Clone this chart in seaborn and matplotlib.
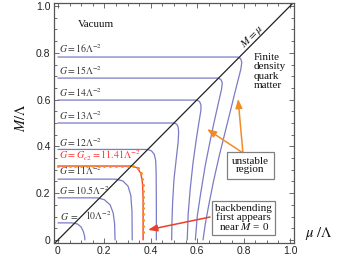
import matplotlib
matplotlib.use("Agg")
import matplotlib.pyplot as plt
import seaborn as sns
import pandas as pd
from matplotlib.ticker import MultipleLocator, FixedLocator, FixedFormatter

# ---------------- data ----------------
curve_names = ["10", "10.5", "11", "12", "13", "14", "15", "16"]
mu_10 = [0.0, 0.06, 0.085, 0.100, 0.110, 0.115, 0.116]
M_10 = [0.073, 0.073, 0.068, 0.055, 0.035, 0.015, 0.0]
mu_105 = [0.0, 0.17, 0.20, 0.225, 0.238, 0.244, 0.246]
M_105 = [0.180, 0.180, 0.172, 0.150, 0.115, 0.070, 0.0]
mu_11 = [0.0, 0.25, 0.28, 0.302, 0.314, 0.319, 0.320]
M_11 = [0.260, 0.260, 0.252, 0.230, 0.190, 0.120, 0.0]
mu_12 = [0.0, 0.385, 0.403, 0.415, 0.421, 0.423, 0.424, 0.424]
M_12 = [0.387, 0.387, 0.381, 0.366, 0.340, 0.290, 0.150, 0.0]
mu_13 = [0.0, 0.50, 0.512, 0.518, 0.520, 0.518, 0.510, 0.500, 0.494, 0.491, 0.490]
M_13 = [0.500, 0.500, 0.495, 0.482, 0.460, 0.420, 0.350, 0.260, 0.160, 0.070, 0.0]
mu_14 = [0.0, 0.598, 0.610, 0.616, 0.616, 0.607, 0.596, 0.582, 0.570, 0.561, 0.557]
M_14 = [0.598, 0.598, 0.592, 0.578, 0.555, 0.500, 0.430, 0.330, 0.220, 0.110, 0.0]
mu_15 = [0.0, 0.690, 0.702, 0.708, 0.705, 0.690, 0.672, 0.655, 0.635, 0.615, 0.600, 0.592]
M_15 = [0.692, 0.692, 0.686, 0.672, 0.645, 0.580, 0.500, 0.420, 0.320, 0.200, 0.100, 0.0]
mu_16 = [0.0, 0.775, 0.787, 0.792, 0.788, 0.770, 0.745, 0.720, 0.695, 0.670, 0.650, 0.635, 0.625]
M_16 = [0.782, 0.782, 0.775, 0.760, 0.730, 0.660, 0.560, 0.460, 0.360, 0.250, 0.150, 0.070, 0.0]

# critical curve G = Gc2 = 11.41
mu_c2 = [0.0, 0.32, 0.342, 0.357, 0.364, 0.367, 0.367]
M_c2 = [0.316, 0.316, 0.308, 0.285, 0.245, 0.180, 0.0]
dots_mu = [0.0, 0.025, 0.05, 0.075, 0.1, 0.125, 0.15, 0.175, 0.2, 0.225, 0.25, 0.275, 0.3, 0.325,
           0.345, 0.357, 0.363, 0.366, 0.366, 0.367, 0.367, 0.367, 0.367, 0.367, 0.367, 0.367]
dots_M = [0.316, 0.316, 0.316, 0.316, 0.316, 0.316, 0.316, 0.316, 0.316, 0.316, 0.316, 0.316, 0.316, 0.315,
          0.306, 0.285, 0.26, 0.235, 0.21, 0.185, 0.16, 0.135, 0.11, 0.085, 0.06, 0.035]

diag = [0.0, 1.0]
tick_vals = [0.0, 0.2, 0.4, 0.6, 0.8, 1.0]
tick_labels = ["0", "0.2", "0.4", "0.6", "0.8", "1.0"]

g_labels = [r"$G = 16\Lambda^{-2}$", r"$G = 15\Lambda^{-2}$", r"$G = 14\Lambda^{-2}$",
            r"$G = 13\Lambda^{-2}$", r"$G = 12\Lambda^{-2}$", r"$G = 11\Lambda^{-2}$",
            r"$G = 10.5\Lambda^{-2}$"]
g_label_y = [0.799, 0.705, 0.611, 0.513, 0.397, 0.278, 0.192]

# ---------------- build table ----------------
mus = [mu_10, mu_105, mu_11, mu_12, mu_13, mu_14, mu_15, mu_16]
Ms = [M_10, M_105, M_11, M_12, M_13, M_14, M_15, M_16]
rows = []
for name, mu, M in zip(curve_names, mus, Ms):
    for i, (a, b) in enumerate(zip(mu, M)):
        rows.append({"curve": name, "order": i, "mu": a, "M": b})
df = pd.DataFrame(rows)
df_c = pd.DataFrame({"mu": mu_c2, "M": M_c2})
df_d = pd.DataFrame({"mu": dots_mu, "M": dots_M})

# ---------------- style ----------------
sns.set_theme(style="white")
plt.rcParams["mathtext.fontset"] = "stix"
plt.rcParams["font.family"] = ["Liberation Serif", "DejaVu Serif"]

fig = plt.figure(figsize=(3.5, 2.63), dpi=100)
ax = fig.add_axes([54 / 350, 20 / 263, 240 / 350, 240 / 263])

blue = "#7b7bc6"
sns.lineplot(data=df, x="mu", y="M", units="curve", estimator=None, sort=False,
             color=blue, lw=0.9, ax=ax)
sns.lineplot(data=df_c, x="mu", y="M", sort=False, estimator=None,
             color="#ff3b3b", lw=1.0, ax=ax)
sns.scatterplot(data=df_d, x="mu", y="M", color="#f0941e", s=4.5, marker="o",
                linewidth=0, ax=ax, zorder=4)
ax.axline((diag[0], diag[0]), (diag[1], diag[1]), color="#222222", lw=0.9)

ax.set_xlim(-0.017, 1.017)
ax.set_ylim(-0.013, 1.013)
ax.set_xlabel("")
ax.set_ylabel("")

for s in ax.spines.values():
    s.set_color("#555555")
    s.set_linewidth(0.9)
ax.xaxis.set_major_locator(FixedLocator(tick_vals))
ax.xaxis.set_major_formatter(FixedFormatter(tick_labels))
ax.yaxis.set_major_locator(FixedLocator(tick_vals))
ax.yaxis.set_major_formatter(FixedFormatter(tick_labels))
ax.xaxis.set_minor_locator(MultipleLocator(0.05))
ax.yaxis.set_minor_locator(MultipleLocator(0.05))
ax.tick_params(which="both", direction="in", top=True, right=True, bottom=True, left=True,
               color="#555555", width=0.6)
ax.tick_params(which="major", length=3.5, labelsize=7.5, pad=2.5, labelcolor="#222222")
ax.tick_params(which="minor", length=2)
for lab in ax.get_xticklabels() + ax.get_yticklabels():
    lab.set_family(["Liberation Sans", "DejaVu Sans"])

# ---------------- annotations ----------------
for t, yv in zip(g_labels, g_label_y):
    ax.text(0.003, yv, t, fontsize=7, color="#333333", va="baseline", ha="left")
ax.text(0.003, 0.342, r"$G = G_{c2} = 11.41\Lambda^{-2}$", fontsize=7.3, color="#ff3030",
        va="baseline", ha="left")
ax.text(0.010, 0.085, r"$G\ =$", fontsize=7, color="#333333", va="baseline", ha="left")
ax.text(0.118, 0.085, r"$10\Lambda^{-2}$", fontsize=7, color="#333333", va="baseline", ha="left")

ax.text(0.164, 0.919, "Vacuum", fontsize=8, color="#111111", ha="center", va="center")
ax.text(0.845, 0.72, "Finite\ndensity\nquark\nmatter", fontsize=8, color="#111111",
        ha="left", va="center", linespacing=1.05)
ax.text(0.835, 0.868, r"$M = \mu$", fontsize=8, color="#111111", ha="center", va="center",
        rotation=45)

bbox1 = dict(boxstyle="square,pad=0.45", fc="white", ec="#808080", lw=0.9)
bbox2 = dict(boxstyle="square,pad=0.3", fc="white", ec="#808080", lw=0.9)
ax.text(0.828, 0.318, "unstable\nregion", fontsize=8, ha="center", va="center",
        linespacing=0.85, bbox=bbox1, color="#111111", zorder=6)
ax.text(0.80, 0.094, "backbending\nfirst appears\n" + r"near $M$ = 0", fontsize=8,
        ha="center", va="center", linespacing=0.9, bbox=bbox2, color="#111111", zorder=6)

orange = "#f08c28"
for tip in [(0.642, 0.474), (0.776, 0.603)]:
    ax.annotate("", xy=tip, xytext=(0.797, 0.372),
                arrowprops=dict(arrowstyle="-|>,head_length=0.45,head_width=0.17",
                                color=orange, lw=1.1, shrinkA=0, shrinkB=0), zorder=5)
ax.annotate("", xy=(0.388, 0.043), xytext=(0.655, 0.098),
            arrowprops=dict(arrowstyle="-|>,head_length=0.45,head_width=0.17",
                            color="#e8402a", lw=1.1, shrinkA=0, shrinkB=0), zorder=5)

fig.text(305 / 350, 1 - 234 / 263, r"$\mu\ /\Lambda$", fontsize=10.5, ha="left", va="center",
         color="#111111")
fig.text(21 / 350, 1 - 118 / 263, r"$M/\Lambda$", fontsize=10.5, ha="center", va="center",
         rotation=90, color="#111111")

fig.savefig("out.png", dpi=100)
